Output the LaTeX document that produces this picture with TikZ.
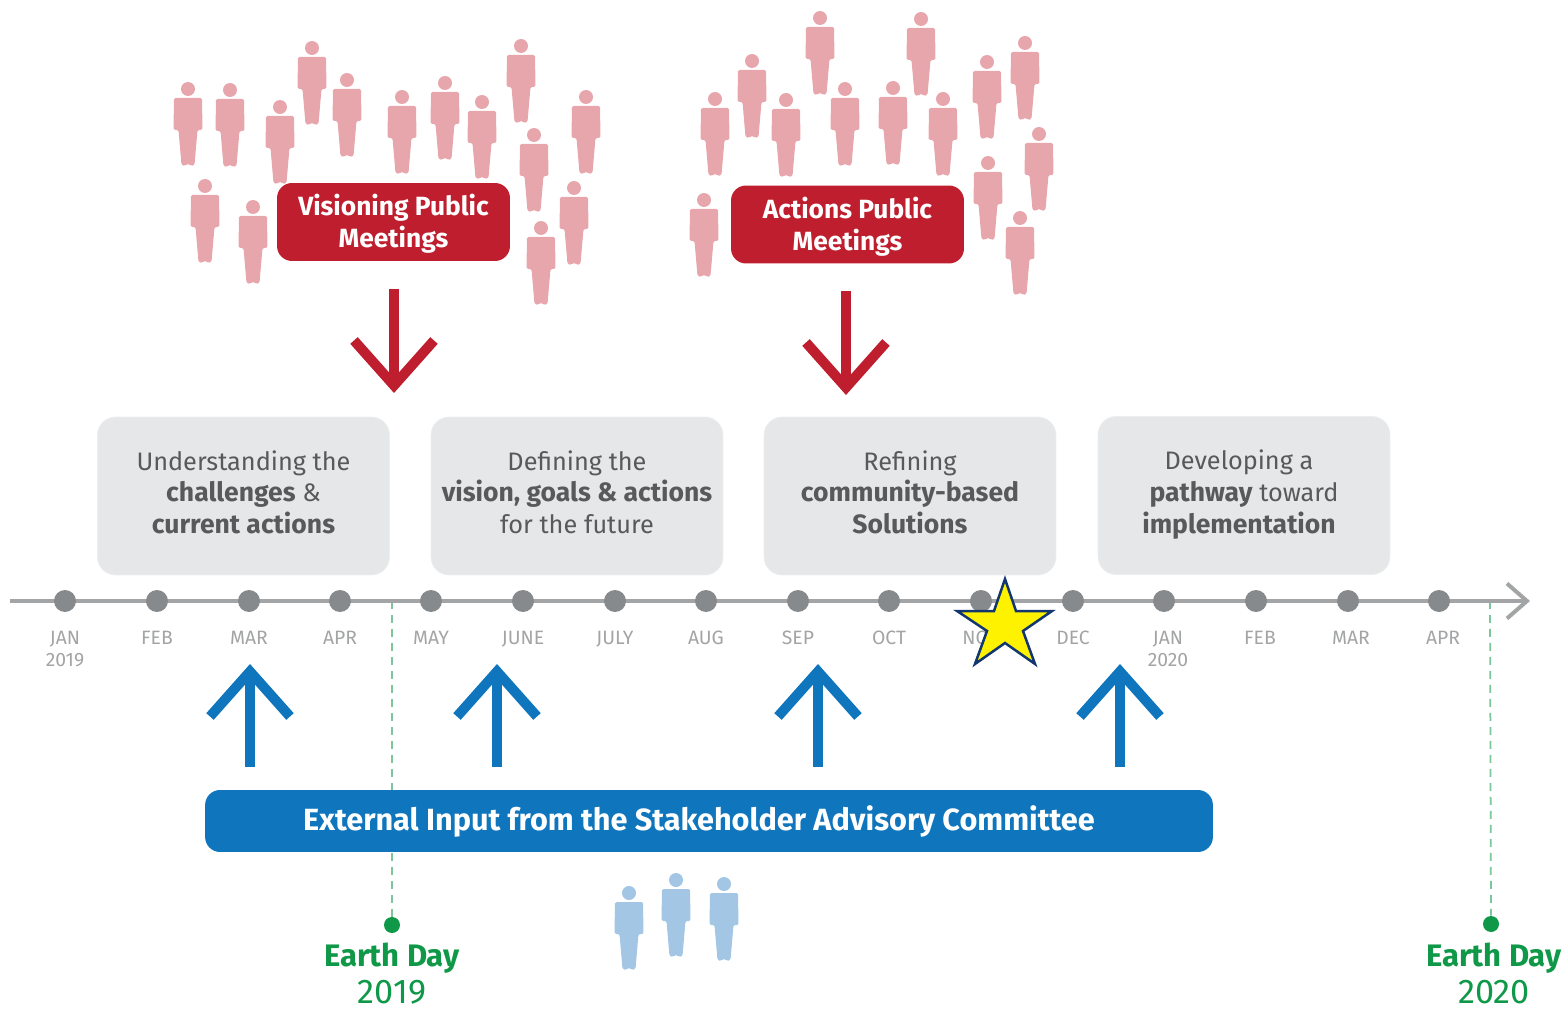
\documentclass[tikz,border=0pt]{standalone}
\usepackage{fontspec}
\setmainfont{Fira Sans}
\usepackage{tikz}
\usetikzlibrary{arrows.meta,positioning}
\definecolor{pinkfig}{HTML}{E7A5AC}
\definecolor{bluefig}{HTML}{A2C6E3}
\definecolor{meetred}{HTML}{BE1E2D}
\definecolor{inputblue}{HTML}{0F75BC}
\definecolor{earthgreen}{HTML}{0F9848}
\definecolor{dotgray}{HTML}{868A8C}
\definecolor{linegray}{HTML}{A3A4A5}
\definecolor{stagegray}{HTML}{E6E7E9}
\definecolor{stagetext}{HTML}{58595B}
\definecolor{starnavy}{HTML}{12366E}
\newcommand{\stagebold}[1]{{\fontsize{15.1}{18.1}\selectfont\bfseries #1}}
\tikzset{
  person/.pic={
    \fill[rounded corners=0.3mm] (-14,9) -- (14,9) -- (14.5,41) -- (9.5,41) -- (6.5,76) -- (3,77) -- (0,74.5) -- (-3,77) -- (-6.5,76) -- (-9.5,41) -- (-14.5,41) -- cycle;
    \fill (0,0) circle (1.4mm);
  },
  stagebox/.style={draw=stagegray!70!white,fill=stagegray,rounded corners=3.6mm,minimum width=5.84cm,minimum height=3.16cm,inner sep=0pt,text depth=1.6mm,align=center,text=stagetext,font=\fontsize{14.4}{18.1}\selectfont},
  meetbox/.style={fill=meetred,rounded corners=3mm,minimum width=4.66cm,minimum height=1.56cm,inner sep=0pt,text height=11.4mm,align=center,text=white,font=\fontsize{15}{18.1}\selectfont\bfseries},
  monthdot/.style={circle,fill=dotgray,minimum size=4.4mm,inner sep=0pt},
  monthlabel/.style={anchor=north,align=center,text=linegray,inner sep=0pt,font=\fontsize{11}{12.4}\selectfont},
  redarrow/.style={draw=meetred,line width=2mm,-{Straight Barb[length=9mm,width=16mm,line width=2mm]}},
  bluearrow/.style={draw=inputblue,line width=2mm,-{Straight Barb[length=9mm,width=16mm,line width=2mm]}},
  earthline/.style={draw=earthgreen!55!white,line width=0.35mm,dash pattern=on 1.6mm off 1.2mm},
  earthdot/.style={circle,fill=earthgreen,minimum size=3.2mm,inner sep=0pt},
  earthlabel/.style={align=center,text=earthgreen,inner sep=0pt,text depth=0pt,font=\fontsize{17.7}{21}\selectfont}
}
\begin{document}
\begin{tikzpicture}[x=0.02cm,y=-0.02cm]
  \useasboundingbox (0,0) rectangle (1566,1010);

  % Left crowd
  \begin{scope}[color=pinkfig]
    \pic at (188,89) {person};
    \pic at (230,90) {person};
    \pic at (280,107) {person};
    \pic at (312,48) {person};
    \pic at (347,80) {person};
    \pic at (402,97) {person};
    \pic at (445,83) {person};
    \pic at (482,102) {person};
    \pic at (521,46) {person};
    \pic at (586,97) {person};
    \pic at (534,135) {person};
    \pic at (205,186) {person};
    \pic at (253,207) {person};
    \pic at (574,188) {person};
    \pic at (541,228) {person};

    % Right crowd
    \pic at (715,99) {person};
    \pic at (752,61) {person};
    \pic at (786,100) {person};
    \pic at (820,18) {person};
    \pic at (845,89) {person};
    \pic at (893,88) {person};
    \pic at (921,19) {person};
    \pic at (943,99) {person};
    \pic at (987,62) {person};
    \pic at (1025,43) {person};
    \pic at (1039,134) {person};
    \pic at (988,163) {person};
    \pic at (704,200) {person};
    \pic at (1020,218) {person};
  \end{scope}

  % Committee members
  \begin{scope}[color=bluefig]
    \pic at (629,893) {person};
    \pic at (676,880) {person};
    \pic at (724,884) {person};
  \end{scope}

  % Meetings and their arrows
  \node[meetbox] (vision) at (393.5,222) {Visioning Public\\Meetings};
  \node[meetbox] (actions) at (847.5,224.5) {Actions Public\\Meetings};
  \coordinate (visiontail) at (394,289);
  \coordinate (visionhead) at (394,393);
  \coordinate (actionstail) at (846,291);
  \coordinate (actionshead) at (846,395);
  \draw[redarrow] (visiontail) -- (visionhead);
  \draw[redarrow] (actionstail) -- (actionshead);

  % Stages
  \node[stagebox] (understand) at (243.5,496) {Understanding the\\\stagebold{challenges} \&\\\stagebold{current actions}};
  \node[stagebox] (define) at (577,496) {Defining the\\\stagebold{vision, goals \& actions}\\for the future};
  \node[stagebox] (refine) at (910,496) {Refining\\\stagebold{community-based}\\\stagebold{Solutions}};
  \node[stagebox] (develop) at (1244,495.5) {Developing a\hspace*{2mm}\\\stagebold{pathway} toward\hspace*{2mm}\\\stagebold{implementation}\hspace*{2mm}};

  % Earth Day lines go under the bar
  \coordinate (earthtopa) at (392,601);
  \coordinate (earthtopb) at (1490,601);
  \node[earthdot] (eartha) at (392,925) {};
  \node[earthdot] (earthb) at (1491,924) {};
  \draw[earthline] (earthtopa) -- (eartha);
  \draw[earthline] (earthtopb) -- (earthb);
  \node[earthlabel] (earthlaba) at (392,973) {\textbf{Earth Day}\\{\fontsize{19.5}{21}\selectfont 2019}};
  \node[earthlabel] (earthlabb) at (1494,973) {\textbf{Earth Day}\\{\fontsize{19.5}{21}\selectfont 2020}};

  % Timeline
  \coordinate (linestart) at (10,601);
  \coordinate (lineend) at (1530,601);
  \draw[draw=linegray,line width=0.8mm,-{Straight Barb[length=4mm,width=7mm,line width=0.8mm]}] (linestart) -- (lineend);

  % Months
  \node[monthdot] (jan) at (65,601) {};
  \node[monthdot] (feb) at (157,601) {};
  \node[monthdot] (mar) at (249,601) {};
  \node[monthdot] (apr) at (340,601) {};
  \node[monthdot] (may) at (431,601) {};
  \node[monthdot] (jun) at (523,601) {};
  \node[monthdot] (jul) at (615,601) {};
  \node[monthdot] (aug) at (706,601) {};
  \node[monthdot] (sep) at (798,601) {};
  \node[monthdot] (oct) at (889,601) {};
  \node[monthdot] (nov) at (981,601) {};
  \node[monthdot] (dec) at (1073,601) {};
  \node[monthdot] (jantwo) at (1164,601) {};
  \node[monthdot] (febtwo) at (1256,601) {};
  \node[monthdot] (martwo) at (1348,601) {};
  \node[monthdot] (aprtwo) at (1439,601) {};

  \node[monthlabel] (janlab) at (65,631) {JAN\\2019};
  \node[monthlabel] (feblab) at (157,631) {FEB};
  \node[monthlabel] (marlab) at (249,631) {MAR};
  \node[monthlabel] (aprlab) at (340,631) {APR};
  \node[monthlabel] (maylab) at (431,631) {MAY};
  \node[monthlabel] (junlab) at (523,631) {JUNE};
  \node[monthlabel] (jullab) at (615,631) {JULY};
  \node[monthlabel] (auglab) at (706,631) {AUG};
  \node[monthlabel] (seplab) at (798,631) {SEP};
  \node[monthlabel] (octlab) at (889,631) {OCT};
  \node[monthlabel] (novlab) at (981,631) {NOV};
  \node[monthlabel] (declab) at (1073,631) {DEC};
  \node[monthlabel] (jantwolab) at (1168,631) {JAN\\2020};
  \node[monthlabel] (febtwolab) at (1260,631) {FEB};
  \node[monthlabel] (martwolab) at (1351,631) {MAR};
  \node[monthlabel] (aprtwolab) at (1443,631) {APR};

  % Star on the current month
  \draw[fill=yellow,draw=starnavy,line width=0.5mm,line join=miter] (1005,579) -- (1016,611) -- (1052,611) -- (1023,631) -- (1035,664) -- (1005,643) -- (975,664) -- (987,631) -- (957,611) -- (994,611) -- cycle;

  % Committee bar and its arrows
  \node[fill=inputblue,rounded corners=3mm,minimum width=20.16cm,minimum height=1.24cm,text=white,font=\fontsize{17.45}{20}\selectfont\bfseries] (committee) at (709,821) {\hspace*{-4mm}External Input from the Stakeholder Advisory Committee};
  \coordinate (inputa) at (250,767);
  \coordinate (inputb) at (497,767);
  \coordinate (inputc) at (818,767);
  \coordinate (inputd) at (1120,767);
  \coordinate (inputatip) at (250,664);
  \coordinate (inputbtip) at (497,664);
  \coordinate (inputctip) at (818,664);
  \coordinate (inputdtip) at (1120,664);
  \draw[bluearrow] (inputa) -- (inputatip);
  \draw[bluearrow] (inputb) -- (inputbtip);
  \draw[bluearrow] (inputc) -- (inputctip);
  \draw[bluearrow] (inputd) -- (inputdtip);
\end{tikzpicture}
\end{document}
